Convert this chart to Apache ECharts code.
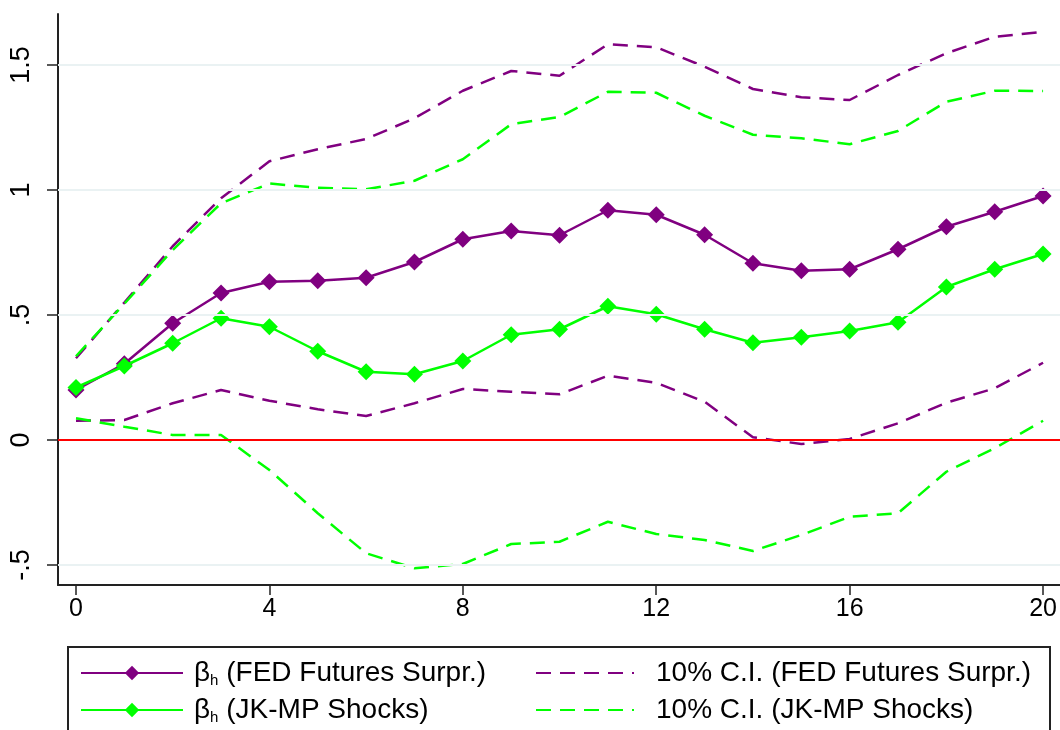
<!DOCTYPE html>
<html><head><meta charset="utf-8">
<script src="https://cdn.jsdelivr.net/npm/echarts@6/dist/echarts.min.js"></script>
<style>html,body{margin:0;padding:0;background:#fff}#c{width:1060px;height:730px}</style>
</head><body><div id="c"></div>
<script>
const horizons = [0,1,2,3,4,5,6,7,8,9,10,11,12,13,14,15,16,17,18,19,20];
const bFed   = [0.20,0.305,0.467,0.588,0.633,0.637,0.649,0.712,0.803,0.836,0.819,0.919,0.901,0.821,0.707,0.677,0.683,0.763,0.853,0.913,0.976];
const bJk    = [0.21,0.296,0.387,0.487,0.453,0.355,0.273,0.263,0.316,0.421,0.443,0.535,0.503,0.443,0.389,0.411,0.436,0.471,0.612,0.683,0.744];
const ciFedUp = [0.327,0.55,0.775,0.967,1.115,1.163,1.204,1.287,1.397,1.476,1.457,1.583,1.571,1.493,1.404,1.371,1.36,1.46,1.547,1.613,1.633];
const ciFedLo = [0.077,0.08,0.147,0.20,0.157,0.123,0.096,0.147,0.204,0.193,0.183,0.257,0.229,0.153,0.011,-0.016,0.004,0.067,0.149,0.207,0.309];
const ciJkUp  = [0.335,0.545,0.76,0.947,1.026,1.009,1.003,1.037,1.123,1.263,1.292,1.393,1.389,1.297,1.221,1.207,1.183,1.236,1.353,1.397,1.396];
const ciJkLo  = [0.087,0.053,0.02,0.02,-0.12,-0.293,-0.453,-0.513,-0.496,-0.416,-0.407,-0.327,-0.376,-0.40,-0.444,-0.38,-0.307,-0.293,-0.127,-0.033,0.077];
const xTicks = [0,4,8,12,16,20];
const yTicks = [-0.5,0,0.5,1,1.5];
const yTickLabels = ['-.5','0','.5','1','1.5'];
const gridValues = [-0.5,0.5,1,1.5];
const refLine = 0;
const legendLabels = {
  bFed: ['β','h',' (FED Futures Surpr.)'],
  bJk: ['β','h',' (JK-MP Shocks)'],
  ciFed: ['','','10% C.I. (FED Futures Surpr.)'],
  ciJk: ['','','10% C.I. (JK-MP Shocks)']
};

const PURPLE = '#800080', GREEN = '#00ff00';
const FONT = "'Liberation Sans', Arial, sans-serif";
const pairs = arr => horizons.map((h,i)=>[h,arr[i]]);

const chart = echarts.init(document.getElementById('c'), null, {renderer:'canvas'});
const legendText = pad => ({
  fontFamily: FONT, fontSize: 28, color:'#000', lineHeight: 30, padding:[0,0,0,pad],
  rich: {
    g:{fontFamily: FONT, fontSize:28, lineHeight:30, color:'#000'},
    s:{fontFamily: FONT, fontSize:15, lineHeight:15, verticalAlign:'bottom', color:'#000'},
    t:{fontFamily: FONT, fontSize:28, lineHeight:30, color:'#000'}
  }
});
const fmt = n => { const p = legendLabels[n]; return (p[0]?'{g|'+p[0]+'}{s|'+p[1]+'}':'') + '{t|'+p[2]+'}'; };

const dashSeries = (name, arr, color) => ({
  name, type:'line', data: pairs(arr), symbol:'none', z:2,
  lineStyle:{color, width:2.5, type:[15,9]}, itemStyle:{color}, animation:false
});
const solidSeries = (name, arr, color, z) => ({
  name, type:'line', data: pairs(arr), symbol:'diamond', symbolSize:17, z,
  lineStyle:{color, width:2.5}, itemStyle:{color}, animation:false
});

chart.setOption({
  backgroundColor:'#fff',
  animation:false,
  grid:{left:58, right:0, top:14, bottom:145, containLabel:false},
  xAxis:{
    type:'value', min:-0.372, max:20.35,
    axisLine:{show:true, onZero:false, lineStyle:{color:'#222', width:2}},
    axisTick:{show:true, length:10, customValues:xTicks, lineStyle:{color:'#222', width:1.5}},
    axisLabel:{customValues:xTicks, fontFamily:FONT, fontSize:25, color:'#000', margin:12},
    splitLine:{show:false}
  },
  yAxis:{
    type:'value', min:-0.58, max:1.704,
    axisLine:{show:true, onZero:false, lineStyle:{color:'#222', width:2}},
    axisTick:{show:true, length:11, customValues:yTicks, lineStyle:{color:'#222', width:1.5}},
    axisLabel:{customValues:yTicks, rotate:90, fontFamily:FONT, fontSize:27, color:'#000', margin:23,
      formatter: v => { const i = yTicks.findIndex(t=>Math.abs(t-v)<1e-9); return i>=0 ? yTickLabels[i] : ''; }},
    splitLine:{show:false}
  },
  legend:[
    {left:80, top:658, orient:'vertical', padding:0, itemWidth:102, itemHeight:18, itemGap:7,
     data:['bFed','bJk'], formatter: fmt, textStyle: legendText(6), selectedMode:false},
    {left:535, top:658, orient:'vertical', padding:0, itemWidth:98, itemHeight:18, itemGap:7,
     data:[{name:'ciFed', itemStyle:{opacity:0}}, {name:'ciJk', itemStyle:{opacity:0}}],
     formatter: fmt, textStyle: legendText(17), selectedMode:false}
  ],
  graphic:[{type:'rect', shape:{x:68, y:647, width:982, height:120}, style:{fill:'none', stroke:'#222', lineWidth:2}, silent:true}],
  series:[
    {type:'line', data:[], silent:true, z:1,
     markLine:{silent:true, symbol:'none', label:{show:false}, animation:false,
       data: gridValues.map(v=>({yAxis:v, lineStyle:{color:'#eaf2f3', width:2, type:'solid'}}))
         .concat([{yAxis:refLine, lineStyle:{color:'#ff0000', width:2, type:'solid'}}])}},
    dashSeries('ciFed', ciFedUp, PURPLE),
    dashSeries('ciFed', ciFedLo, PURPLE),
    dashSeries('ciJk', ciJkUp, GREEN),
    dashSeries('ciJk', ciJkLo, GREEN),
    solidSeries('bFed', bFed, PURPLE, 3),
    solidSeries('bJk', bJk, GREEN, 4)
  ]
});
</script></body></html>
